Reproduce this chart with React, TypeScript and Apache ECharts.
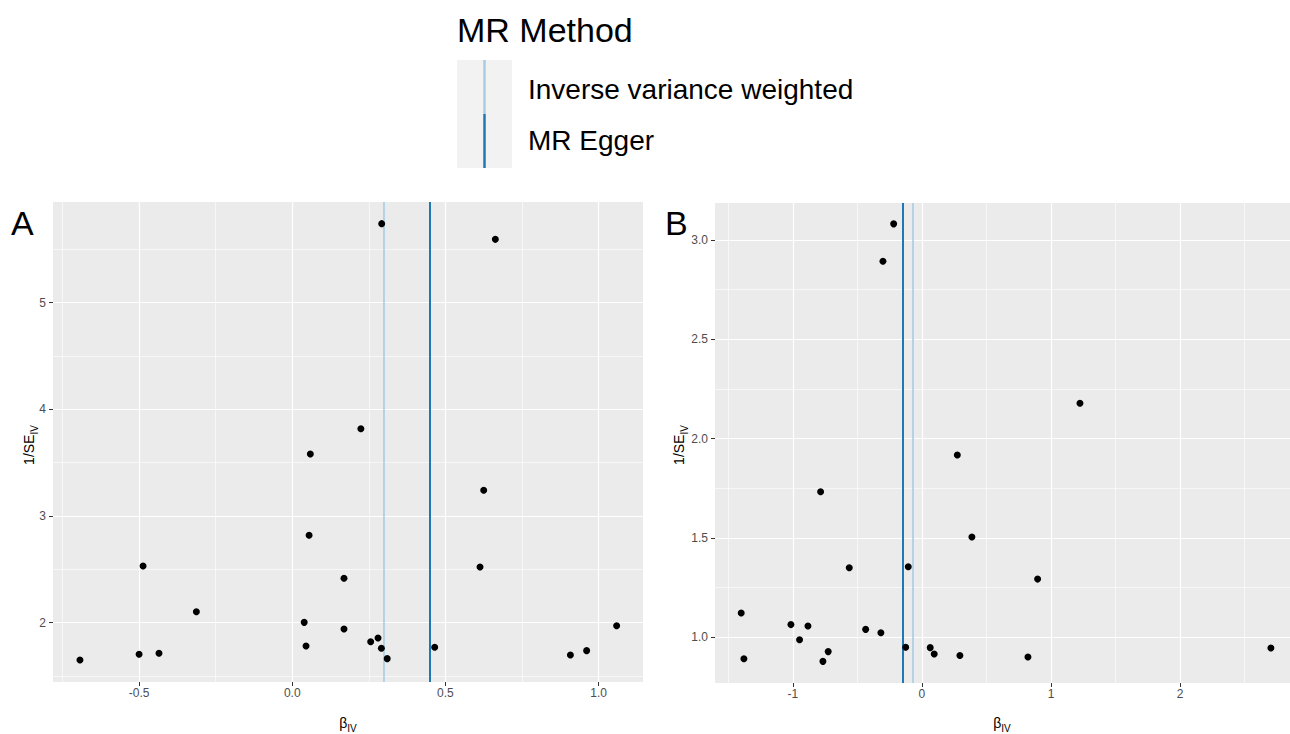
import { useEffect, useRef } from "react";
import * as echarts from "echarts";

// ---------- Panel A data (beta_IV, 1/SE_IV) ----------
const aBeta = [
  -0.693, -0.5, -0.435, -0.487, -0.313, 0.039, 0.045, 0.055, 0.059, 0.292, 0.663, 0.224,
  0.625, 0.613, 0.169, 0.169, 0.256, 0.28, 0.291, 0.31, 0.465, 0.908, 0.961, 1.059,
];
const aInvSe = [
  1.65, 1.704, 1.713, 2.531, 2.103, 2.003, 1.782, 2.819, 3.581, 5.74, 5.593, 3.818,
  3.241, 2.522, 2.416, 1.941, 1.822, 1.857, 1.76, 1.663, 1.769, 1.697, 1.738, 1.972,
];
const aIvw = 0.296;
const aEgger = 0.445;

// ---------- Panel B data ----------
const bBeta = [
  -0.219, -0.302, -0.785, -0.563, -0.106, 0.274, 0.387, -1.4, -1.379, -1.015, -0.948, -0.883,
  -0.767, -0.726, -0.436, -0.318, -0.126, 0.064, 0.095, 0.294, 1.224, 0.896, 0.821, 2.703,
];
const bInvSe = [
  3.081, 2.893, 1.733, 1.35, 1.355, 1.918, 1.505, 1.122, 0.892, 1.064, 0.988, 1.057,
  0.879, 0.928, 1.04, 1.023, 0.95, 0.948, 0.916, 0.908, 2.178, 1.293, 0.901, 0.946,
];
const bIvw = -0.067;
const bEgger = -0.15;

// ---------- Axis ranges & ticks ----------
const aXRange = [-0.781, 1.145];
const aYRange = [1.444, 5.943];
const aXTicks = [-0.5, 0, 0.5, 1.0];
const aXMinor = [-0.75, -0.25, 0.25, 0.75];
const aYTicks = [2, 3, 4, 5];
const aYMinor = [1.5, 2.5, 3.5, 4.5, 5.5];

const bXRange = [-1.603, 2.851];
const bYRange = [0.77, 3.186];
const bXTicks = [-1, 0, 1, 2];
const bXMinor = [-1.5, -0.5, 0.5, 1.5, 2.5];
const bYTicks = [1.0, 1.5, 2.0, 2.5, 3.0];
const bYMinor = [1.25, 1.75, 2.25, 2.75];

const methodNames = ["Inverse variance weighted", "MR Egger"];
const methodColors = ["#A6CEE3", "#1F78B4"];

const FONT = '"Liberation Sans", Arial, sans-serif';

function makeAxis(gridIndex: number, range: number[], ticks: number[], fmt: (v: number) => string, isX: boolean) {
  return {
    type: "value",
    gridIndex,
    min: range[0],
    max: range[1],
    splitLine: { show: false },
    axisLine: { show: true, onZero: false, lineStyle: { color: "rgba(0,0,0,0)", width: 0 } },
    axisTick: {
      show: true,
      customValues: ticks,
      length: 4,
      inside: false,
      lineStyle: { color: "#333333", width: 1 },
    },
    axisLabel: {
      customValues: ticks,
      formatter: (v: number) => fmt(v),
      color: "#4D4D4D",
      fontSize: 12,
      fontFamily: FONT,
      margin: isX ? 5 : 7,
    },
  };
}

function gridSeries(idx: number, xMaj: number[], xMin: number[], yMaj: number[], yMin: number[]) {
  const major = { color: "#FFFFFF", width: 1.2, type: "solid" };
  const minor = { color: "#FFFFFF", width: 0.6, type: "solid" };
  return {
    type: "scatter",
    xAxisIndex: idx,
    yAxisIndex: idx,
    data: [],
    silent: true,
    z: 1,
    markLine: {
      silent: true,
      symbol: ["none", "none"],
      label: { show: false },
      emphasis: { disabled: true },
      animation: false,
      data: [
        ...xMin.map((v) => ({ xAxis: v, lineStyle: minor })),
        ...yMin.map((v) => ({ yAxis: v, lineStyle: minor })),
        ...xMaj.map((v) => ({ xAxis: v, lineStyle: major })),
        ...yMaj.map((v) => ({ yAxis: v, lineStyle: major })),
      ],
    },
  };
}

function methodLine(idx: number, m: number, value: number, width: number) {
  return {
    type: "scatter",
    name: methodNames[m],
    xAxisIndex: idx,
    yAxisIndex: idx,
    data: [],
    silent: true,
    z: 3,
    markLine: {
      silent: true,
      symbol: ["none", "none"],
      label: { show: false },
      emphasis: { disabled: true },
      animation: false,
      lineStyle: { color: methodColors[m], width, type: "solid" },
      data: [{ xAxis: value }],
    },
  };
}

function pointSeries(idx: number, xs: number[], ys: number[]) {
  return {
    type: "scatter",
    xAxisIndex: idx,
    yAxisIndex: idx,
    data: xs.map((x, i) => [x, ys[i]]),
    symbol: "circle",
    symbolSize: 7,
    itemStyle: { color: "#000000", opacity: 1 },
    emphasis: { disabled: true },
    z: 5,
  };
}

const subRich = {
  m: { fontSize: 14, fontFamily: FONT, color: "#000", verticalAlign: "middle" },
  s: { fontSize: 10, fontFamily: FONT, color: "#000", lineHeight: 20, verticalAlign: "bottom" },
};

function titleText(x: number, y: number, main: string, rotate: boolean) {
  return {
    type: "text",
    x,
    y,
    rotation: rotate ? Math.PI / 2 : 0,
    silent: true,
    style: {
      text: `{m|${main}}{s|IV}`,
      rich: subRich,
      align: "center",
      verticalAlign: "middle",
    },
  };
}

export default function App() {
  const ref = useRef<HTMLDivElement>(null);

  useEffect(() => {
    if (!ref.current) return;
    const chart = echarts.init(ref.current, undefined, { renderer: "svg" });
    const option = {
      animation: false,
      backgroundColor: "#FFFFFF",
      grid: [
        { left: 53, top: 202, width: 590, height: 480, show: true, backgroundColor: "#EBEBEB", borderWidth: 0 },
        { left: 715, top: 203, width: 575, height: 480, show: true, backgroundColor: "#EBEBEB", borderWidth: 0 },
      ],
      xAxis: [
        makeAxis(0, aXRange, aXTicks, (v) => v.toFixed(1), true),
        makeAxis(1, bXRange, bXTicks, (v) => v.toFixed(0), true),
      ],
      yAxis: [
        makeAxis(0, aYRange, aYTicks, (v) => v.toFixed(0), false),
        makeAxis(1, bYRange, bYTicks, (v) => v.toFixed(1), false),
      ],
      series: [
        gridSeries(0, aXTicks, aXMinor, aYTicks, aYMinor),
        gridSeries(1, bXTicks, bXMinor, bYTicks, bYMinor),
        methodLine(0, 0, aIvw, 1.6),
        methodLine(0, 1, aEgger, 2),
        methodLine(1, 0, bIvw, 1.6),
        methodLine(1, 1, bEgger, 2),
        pointSeries(0, aBeta, aInvSe),
        pointSeries(1, bBeta, bInvSe),
      ],
      graphic: [
        // legend
        {
          type: "text",
          x: 457,
          y: 30,
          silent: true,
          style: { text: "MR Method", font: `34px ${FONT}`, fill: "#000", align: "left", verticalAlign: "middle" },
        },
        { type: "rect", silent: true, shape: { x: 457, y: 60, width: 55, height: 108 }, style: { fill: "#F2F2F2" } },
        {
          type: "line",
          silent: true,
          shape: { x1: 484.5, y1: 60, x2: 484.5, y2: 114 },
          style: { stroke: methodColors[0], lineWidth: 2.5 },
        },
        {
          type: "line",
          silent: true,
          shape: { x1: 484.5, y1: 114, x2: 484.5, y2: 168 },
          style: { stroke: methodColors[1], lineWidth: 2.5 },
        },
        {
          type: "text",
          x: 528,
          y: 89,
          silent: true,
          style: { text: methodNames[0], font: `28px ${FONT}`, fill: "#000", align: "left", verticalAlign: "middle" },
        },
        {
          type: "text",
          x: 528,
          y: 140,
          silent: true,
          style: { text: methodNames[1], font: `28px ${FONT}`, fill: "#000", align: "left", verticalAlign: "middle" },
        },
        // panel letters
        {
          type: "text",
          x: 11,
          y: 223,
          silent: true,
          style: { text: "A", font: `34px ${FONT}`, fill: "#000", align: "left", verticalAlign: "middle" },
        },
        {
          type: "text",
          x: 665,
          y: 223,
          silent: true,
          style: { text: "B", font: `34px ${FONT}`, fill: "#000", align: "left", verticalAlign: "middle" },
        },
        // axis titles
        titleText(348, 723, "β", false),
        titleText(1002, 723, "β", false),
        titleText(29, 445, "1/SE", true),
        titleText(679, 445, "1/SE", true),
      ],
    };
    chart.setOption(option as any);
    return () => chart.dispose();
  }, []);

  return (
    <div
      ref={ref}
      style={{ position: "fixed", left: 0, top: 0, width: 1290, height: 734, background: "#fff" }}
    />
  );
}
